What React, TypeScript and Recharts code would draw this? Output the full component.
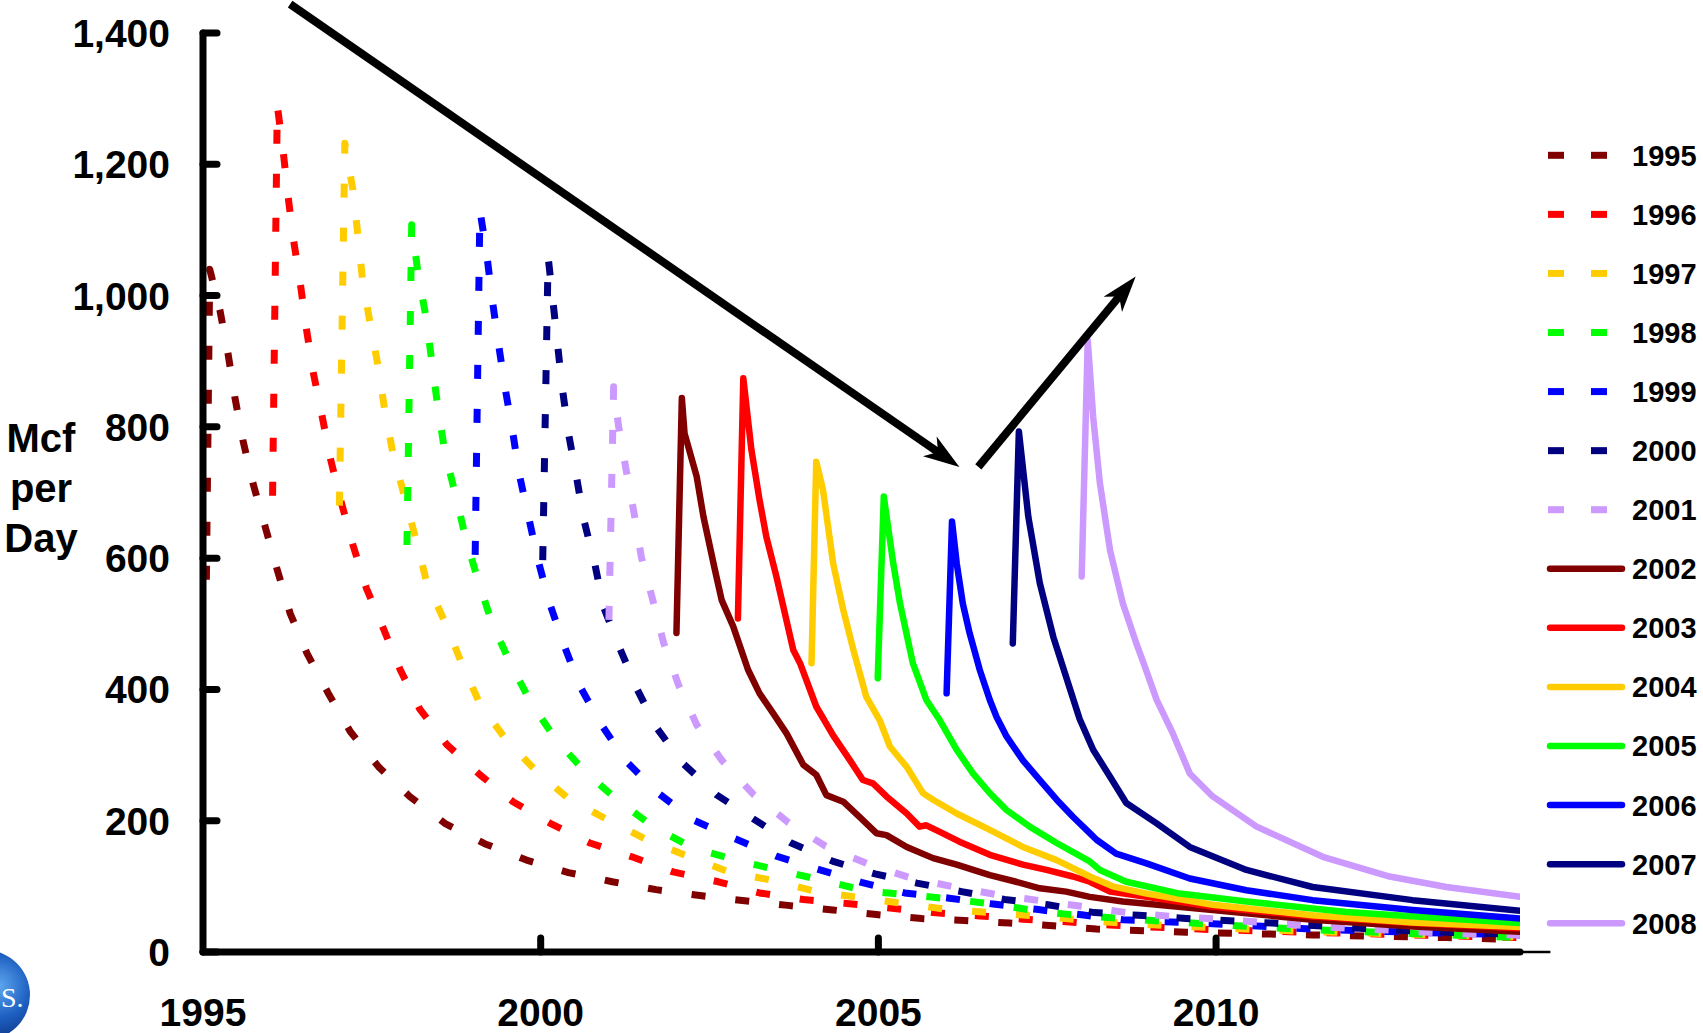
import React from 'react';
import { LineChart, Line, XAxis, YAxis, ReferenceLine, Legend } from 'recharts';

type Pt = [number, number];

// ---- Series values: [year, Mcf per day] ----
const y1995: Pt[] = [[1995.05, 567], [1995.10, 1040], [1995.25, 978], [1995.37, 912], [1995.47, 846], [1995.59, 780], [1995.74, 714], [1995.92, 648], [1996.10, 582], [1996.29, 516], [1996.54, 455], [1996.85, 395], [1997.18, 336], [1997.60, 282], [1998.06, 237], [1998.58, 196], [1999.17, 165], [1999.79, 140], [2000.41, 121], [2001.06, 107], [2001.71, 95], [2002.36, 86], [2003.02, 78], [2003.66, 71], [2004.33, 64], [2004.97, 57], [2005.64, 51], [2006.28, 48], [2006.94, 44], [2007.59, 40], [2008.23, 35], [2009.56, 30], [2011.43, 26], [2013.41, 22], [2014.5, 19]];
const y1996: Pt[] = [[1996.03, 695], [1996.10, 1290], [1996.19, 1217], [1996.26, 1151], [1996.34, 1085], [1996.44, 1019], [1996.53, 950], [1996.63, 884], [1996.76, 818], [1996.89, 750], [1997.05, 684], [1997.22, 620], [1997.42, 554], [1997.67, 493], [1997.92, 430], [1998.21, 370], [1998.61, 316], [1999.10, 270], [1999.59, 229], [2000.14, 196], [2000.73, 166], [2001.35, 145], [2001.96, 122], [2002.63, 107], [2003.24, 90], [2003.89, 80], [2004.53, 74], [2005.17, 67], [2005.81, 60], [2006.50, 55], [2007.14, 50], [2007.78, 46], [2008.43, 41], [2009.95, 34], [2011.43, 30], [2012.91, 26], [2014.5, 22]];
const y1997: Pt[] = [[1997.02, 680], [1997.10, 1232], [1997.22, 1161], [1997.29, 1095], [1997.36, 1026], [1997.47, 960], [1997.59, 894], [1997.69, 826], [1997.81, 761], [1997.98, 695], [1998.15, 630], [1998.31, 564], [1998.58, 503], [1998.83, 440], [1999.10, 378], [1999.49, 323], [1999.94, 275], [2000.43, 232], [2001.00, 201], [2001.57, 171], [2002.18, 146], [2002.79, 122], [2003.44, 109], [2004.08, 92], [2004.72, 83], [2005.36, 74], [2006.01, 65], [2006.65, 60], [2007.32, 55], [2007.98, 49], [2008.60, 44], [2009.95, 37], [2011.43, 31], [2012.91, 27], [2014.5, 23]];
const y1998: Pt[] = [[1998.02, 620], [1998.09, 1108], [1998.19, 1029], [1998.31, 963], [1998.39, 897], [1998.48, 828], [1998.58, 762], [1998.74, 696], [1998.89, 630], [1999.07, 567], [1999.28, 501], [1999.55, 440], [1999.86, 379], [2000.23, 323], [2000.68, 272], [2001.17, 229], [2001.65, 192], [2002.26, 158], [2002.90, 140], [2003.54, 124], [2004.18, 109], [2004.82, 93], [2005.47, 87], [2006.13, 80], [2006.77, 72], [2007.44, 61], [2008.05, 55], [2009.50, 45], [2011.00, 36], [2012.90, 28], [2014.5, 22]];
const y1999: Pt[] = [[1999.03, 605], [1999.10, 1130], [1999.20, 1064], [1999.28, 996], [1999.37, 930], [1999.47, 861], [1999.58, 796], [1999.68, 729], [1999.82, 663], [1999.96, 597], [2000.13, 532], [2000.34, 469], [2000.58, 405], [2000.90, 346], [2001.27, 290], [2001.74, 242], [2002.26, 201], [2002.87, 173], [2003.49, 146], [2004.11, 126], [2004.75, 106], [2005.39, 90], [2006.05, 82], [2006.70, 73], [2007.34, 65], [2007.98, 57], [2008.62, 49], [2009.95, 43], [2011.43, 35], [2012.91, 30], [2014.5, 26]];
const y2000: Pt[] = [[2000.03, 597], [2000.11, 1059], [2000.18, 993], [2000.25, 925], [2000.32, 859], [2000.41, 791], [2000.53, 724], [2000.64, 658], [2000.80, 592], [2000.93, 526], [2001.17, 463], [2001.42, 402], [2001.72, 341], [2002.10, 288], [2002.61, 239], [2003.16, 202], [2003.71, 166], [2004.33, 138], [2004.95, 119], [2005.57, 105], [2006.23, 92], [2006.87, 80], [2007.51, 72], [2008.20, 60], [2008.85, 56], [2009.56, 51], [2010.84, 44], [2012.13, 36], [2013.41, 30], [2014.5, 27]];
const y2001: Pt[] = [[2001.01, 506], [2001.08, 861], [2001.15, 803], [2001.26, 737], [2001.38, 670], [2001.49, 602], [2001.66, 536], [2001.82, 471], [2002.04, 407], [2002.31, 346], [2002.69, 291], [2003.15, 240], [2003.67, 197], [2004.22, 161], [2004.85, 134], [2005.47, 113], [2006.13, 99], [2006.77, 87], [2007.41, 78], [2008.05, 69], [2008.75, 59], [2009.39, 54], [2010.05, 50], [2010.70, 45], [2011.34, 40], [2011.98, 36], [2012.64, 33], [2013.31, 29], [2013.95, 27], [2014.5, 26]];
const y2002: Pt[] = [[2002.01, 486], [2002.09, 844], [2002.13, 790], [2002.31, 724], [2002.41, 663], [2002.58, 582], [2002.68, 536], [2002.85, 496], [2003.07, 430], [2003.24, 394], [2003.44, 364], [2003.64, 333], [2003.89, 285], [2004.08, 270], [2004.23, 239], [2004.48, 229], [2004.72, 206], [2004.97, 181], [2005.12, 178], [2005.42, 160], [2005.81, 143], [2006.16, 133], [2006.65, 117], [2007.04, 107], [2007.39, 97], [2007.78, 92], [2008.13, 84], [2008.62, 77], [2009.95, 64], [2011.43, 49], [2012.91, 39], [2014.5, 31]];
const y2003: Pt[] = [[2002.92, 508], [2003.00, 874], [2003.12, 765], [2003.24, 689], [2003.34, 633], [2003.49, 572], [2003.74, 460], [2003.84, 440], [2004.08, 374], [2004.33, 330], [2004.58, 292], [2004.77, 262], [2004.92, 257], [2005.12, 237], [2005.42, 211], [2005.61, 191], [2005.71, 193], [2005.91, 183], [2006.20, 168], [2006.65, 148], [2007.14, 133], [2007.49, 125], [2007.88, 115], [2008.13, 107], [2008.43, 92], [2008.97, 84], [2009.95, 69], [2011.43, 54], [2012.91, 44], [2014.5, 36]];
const y2004: Pt[] = [[2004.01, 440], [2004.08, 747], [2004.18, 704], [2004.33, 592], [2004.48, 521], [2004.63, 460], [2004.82, 389], [2005.02, 353], [2005.17, 313], [2005.42, 282], [2005.66, 242], [2005.81, 232], [2006.16, 211], [2006.65, 186], [2007.14, 160], [2007.64, 140], [2008.13, 115], [2008.47, 100], [2008.97, 89], [2009.95, 72], [2011.43, 56], [2012.91, 45], [2014.5, 38]];
const y2005: Pt[] = [[2004.99, 417], [2005.08, 694], [2005.22, 592], [2005.32, 531], [2005.51, 440], [2005.71, 384], [2005.91, 353], [2006.16, 308], [2006.40, 272], [2006.65, 242], [2006.90, 216], [2007.24, 191], [2007.64, 166], [2008.13, 138], [2008.28, 125], [2008.67, 107], [2009.46, 89], [2010.45, 77], [2011.93, 61], [2013.41, 51], [2014.5, 44]];
const y2006: Pt[] = [[2006.01, 394], [2006.09, 656], [2006.16, 592], [2006.25, 531], [2006.35, 486], [2006.50, 430], [2006.65, 384], [2006.75, 358], [2006.90, 328], [2007.14, 292], [2007.39, 262], [2007.64, 232], [2007.88, 206], [2008.13, 181], [2008.23, 171], [2008.52, 150], [2008.97, 135], [2009.61, 112], [2010.45, 94], [2011.43, 79], [2012.91, 64], [2014.5, 51]];
const y2007: Pt[] = [[2006.99, 470], [2007.08, 793], [2007.22, 663], [2007.39, 562], [2007.59, 480], [2007.98, 355], [2008.18, 308], [2008.43, 267], [2008.67, 227], [2009.12, 196], [2009.61, 160], [2010.45, 125], [2011.43, 99], [2012.91, 79], [2014.5, 63]];
const y2008: Pt[] = [[2008.01, 572], [2008.10, 932], [2008.18, 815], [2008.28, 714], [2008.43, 612], [2008.62, 531], [2008.82, 470], [2008.98, 425], [2009.12, 384], [2009.36, 333], [2009.61, 272], [2009.95, 237], [2010.60, 191], [2011.58, 145], [2012.57, 115], [2013.41, 99], [2014.5, 84]];

// ---- Categories / labels ----
const SERIES_NAMES = ['1995', '1996', '1997', '1998', '1999', '2000', '2001', '2002', '2003', '2004', '2005', '2006', '2007', '2008'];
const SERIES_POINTS: Pt[][] = [y1995, y1996, y1997, y1998, y1999, y2000, y2001, y2002, y2003, y2004, y2005, y2006, y2007, y2008];
const SERIES_COLORS = ['#800000', '#FF0000', '#FFCC00', '#00FF00', '#0000FF', '#000080', '#CC99FF', '#800000', '#FF0000', '#FFCC00', '#00FF00', '#0000FF', '#000080', '#CC99FF'];
const SERIES_DASHED = [true, true, true, true, true, true, true, false, false, false, false, false, false, false];

const Y_TICKS = [0, 200, 400, 600, 800, 1000, 1200, 1400];
const X_TICKS = [1995, 2000, 2005, 2010];
const Y_TITLE = ['Mcf', 'per', 'Day'];
const LOGO_TEXT = 'S.';
// annotation arrows, in data units: [start, end]
const ARROW_1: Pt[] = [[1996.29, 1444], [2006.20, 739]];
const ARROW_2: Pt[] = [[2006.48, 739], [2008.81, 1029]];
// thin extension of the x axis past the last month
const AXIS_TAIL: Pt[] = [[2014.5, 0], [2014.95, 0]];

const FONT = '"Liberation Sans", Arial, Helvetica, sans-serif';

const fmt = (v: number) => v.toLocaleString('en-US');

const YTick = (props: any) => {
  const { x, y, payload } = props;
  return (
    <g>
      <line x1={x + 33} x2={x + 47} y1={y} y2={y} stroke="#000" strokeWidth={7} strokeLinecap="round" />
      <text x={x} y={y} dy="0.36em" textAnchor="end" fontFamily={FONT} fontWeight="bold" fontSize={39} fill="#000">
        {fmt(payload.value)}
      </text>
    </g>
  );
};

const XTick = (props: any) => {
  const { x, y, payload } = props;
  return (
    <g>
      {payload.value !== 1995 && (
        <line x1={x} x2={x} y1={y} y2={y - 14} stroke="#000" strokeWidth={7} strokeLinecap="round" />
      )}
      <text x={x} y={y + 60} dy="0.36em" textAnchor="middle" fontFamily={FONT} fontWeight="bold" fontSize={39} fill="#000">
        {payload.value}
      </text>
    </g>
  );
};

const YTitle = (props: any) => {
  const vb = props.viewBox || { x: 0, y: 33 };
  return (
    <text fontFamily={FONT} fontWeight="bold" fontSize={40} fill="#000" textAnchor="middle">
      {Y_TITLE.map((s, i) => (
        <tspan key={s} x={vb.x + 41} y={452 + i * 50}>{s}</tspan>
      ))}
    </text>
  );
};

const ArrowShape = (props: any) => {
  const { x1, y1, x2, y2 } = props;
  if ([x1, y1, x2, y2].some((v) => typeof v !== 'number' || isNaN(v))) return <g />;
  const dx = x2 - x1;
  const dy = y2 - y1;
  const len = Math.sqrt(dx * dx + dy * dy);
  const ux = dx / len;
  const uy = dy / len;
  const nx = -uy;
  const ny = ux;
  const headLen = 36;
  const half = 12;
  const notch = 26;
  const bx = x2 - ux * headLen;
  const by = y2 - uy * headLen;
  const p1 = `${x2},${y2}`;
  const p2 = `${bx + nx * half},${by + ny * half}`;
  const p3 = `${x2 - ux * notch},${y2 - uy * notch}`;
  const p4 = `${bx - nx * half},${by - ny * half}`;
  return (
    <g>
      <line x1={x1} y1={y1} x2={x2 - ux * 24} y2={y2 - uy * 24} stroke="#000" strokeWidth={8} />
      <polygon points={`${p1} ${p2} ${p3} ${p4}`} fill="#000" />
    </g>
  );
};

const LEGEND_LEFT = 1540;
const LEGEND_TOP = 120;

const LegendBox = () => (
  <svg width={163} height={840} style={{ display: 'block' }}>
    {SERIES_NAMES.map((name, i) => {
      const cy = 155.3 + i * 59.07 - LEGEND_TOP;
      return (
        <g key={name}>
          {SERIES_DASHED[i] ? (
            <g>
              <line x1={8} x2={24} y1={cy} y2={cy} stroke={SERIES_COLORS[i]} strokeWidth={7} />
              <line x1={51} x2={67} y1={cy} y2={cy} stroke={SERIES_COLORS[i]} strokeWidth={7} />
            </g>
          ) : (
            <line x1={10} x2={82} y1={cy} y2={cy} stroke={SERIES_COLORS[i]} strokeWidth={6.5} strokeLinecap="round" />
          )}
          <text x={92} y={cy} dy="0.36em" fontFamily={FONT} fontWeight="bold" fontSize={29} fill="#000">
            {name}
          </text>
        </g>
      );
    })}
  </svg>
);

const Logo = () => (
  <svg width={60} height={100} style={{ position: 'absolute', left: 0, top: 933 }}>
    <defs>
      <radialGradient id="globeGrad" cx="0.65" cy="0.4" r="0.7">
        <stop offset="0" stopColor="#5fa8f0" />
        <stop offset="0.5" stopColor="#1d5fc0" />
        <stop offset="1" stopColor="#0a2a78" />
      </radialGradient>
    </defs>
    <circle cx={-15} cy={62} r={45} fill="url(#globeGrad)" />
    <text x={1} y={74} fontFamily="'Liberation Serif', serif" fontSize={28} fill="#fff">{LOGO_TEXT}</text>
  </svg>
);

export default function App() {
  return (
    <div style={{ position: 'absolute', left: 0, top: 0, width: 1703, height: 1033, background: '#fff', overflow: 'hidden' }}>
      <LineChart width={1703} height={1033} margin={{ top: 33, right: 183, bottom: 0, left: 0 }}>
        <XAxis
          dataKey="t"
          type="number"
          domain={[1995, 2014.5]}
          ticks={X_TICKS}
          interval={0}
          allowDataOverflow
          height={81}
          tickSize={0}
          tickMargin={0}
          tickLine={false}
          axisLine={{ stroke: '#000', strokeWidth: 7, strokeLinecap: 'round' }}
          tick={<XTick />}
        />
        <YAxis
          type="number"
          domain={[0, 1400]}
          ticks={Y_TICKS}
          interval={0}
          width={203}
          tickSize={0}
          tickMargin={33}
          tickLine={false}
          axisLine={{ stroke: '#000', strokeWidth: 7, strokeLinecap: 'round' }}
          tick={<YTick />}
          label={{ content: <YTitle /> }}
        />
        {SERIES_POINTS.map((pts, i) => (
          <Line
            key={SERIES_NAMES[i]}
            name={SERIES_NAMES[i]}
            data={pts.map(([t, v]) => ({ t, v }))}
            dataKey="v"
            type="linear"
            stroke={SERIES_COLORS[i]}
            strokeWidth={SERIES_DASHED[i] ? 7 : 6.5}
            strokeDasharray={SERIES_DASHED[i] ? '14 30' : undefined}
            strokeLinecap={SERIES_DASHED[i] ? 'butt' : 'round'}
            strokeLinejoin="round"
            dot={false}
            activeDot={false}
            isAnimationActive={false}
          />
        ))}
        <ReferenceLine
          segment={AXIS_TAIL.map(([x, y]) => ({ x, y }))}
          ifOverflow="visible"
          stroke="#000"
          strokeWidth={2.5}
        />
        <ReferenceLine
          segment={ARROW_1.map(([x, y]) => ({ x, y }))}
          ifOverflow="visible"
          shape={(p: any) => <ArrowShape {...p} />}
        />
        <ReferenceLine
          segment={ARROW_2.map(([x, y]) => ({ x, y }))}
          ifOverflow="visible"
          shape={(p: any) => <ArrowShape {...p} />}
        />
        <Legend
          layout="vertical"
          align="center"
          verticalAlign="middle"
          wrapperStyle={{ left: LEGEND_LEFT, top: LEGEND_TOP, width: 163, height: 840 }}
          content={() => <LegendBox />}
        />
      </LineChart>
      <Logo />
    </div>
  );
}
